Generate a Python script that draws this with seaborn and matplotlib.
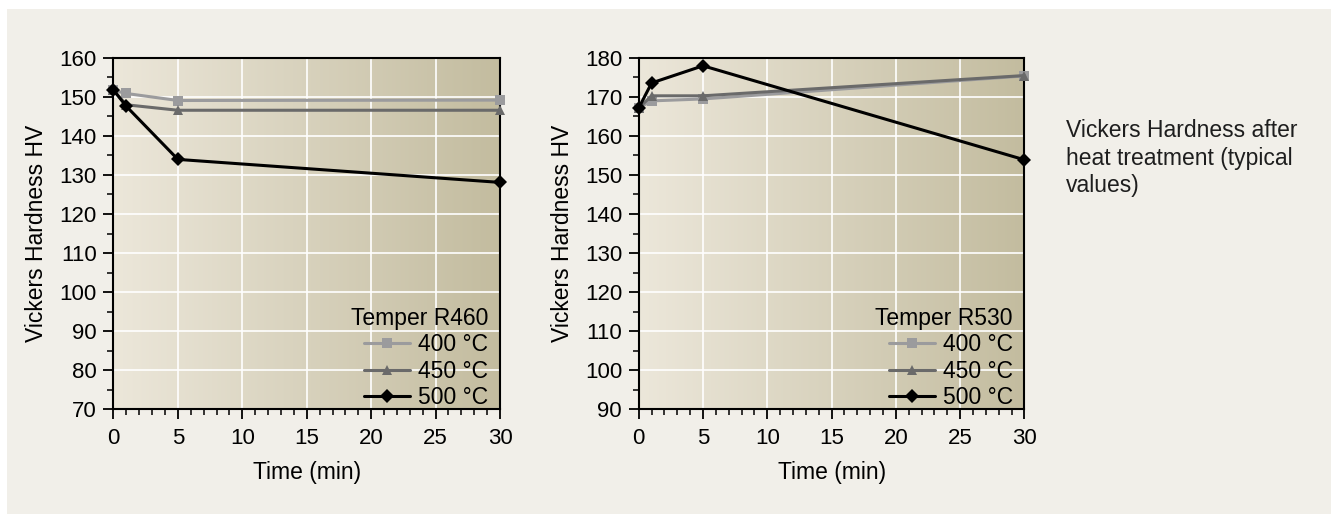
import numpy as np
import pandas as pd
import matplotlib.pyplot as plt
import seaborn as sns
from matplotlib.colors import LinearSegmentedColormap
from matplotlib.patches import Rectangle

sns.set_theme(style="white")
plt.rcParams['font.family'] = ['Liberation Sans', 'DejaVu Sans']
plt.rcParams['text.color'] = 'black'
plt.rcParams['axes.labelcolor'] = 'black'
plt.rcParams['xtick.color'] = 'black'
plt.rcParams['ytick.color'] = 'black'

# --- datos ---
time_min = [0, 1, 5, 30]
temps = ['400 °C', '450 °C', '500 °C']

r460_400 = [151.7, 150.9, 149.1, 149.2]
r460_450 = [151.7, 148.0, 146.6, 146.6]
r460_500 = [151.8, 147.6, 134.0, 128.1]

r530_400 = [167.2, 169.0, 169.5, 175.4]
r530_450 = [167.2, 170.3, 170.3, 175.5]
r530_500 = [167.2, 173.6, 178.0, 153.9]

colors = ['#9b9b9d', '#6a6a6a', '#000000']
markers = ['s', '^', 'D']
bg = '#f1efe9'
fs = 16.5


def make_df(series):
    rows = []
    for t, vals in zip(temps, series):
        for x, y in zip(time_min, vals):
            rows.append({'time': x, 'hv': y, 'temp': t})
    return pd.DataFrame(rows)


def draw_panel(ax, df, ylim, title):
    # fondo degradado
    grad = np.linspace(0, 1, 256).reshape(1, -1)
    cmap = LinearSegmentedColormap.from_list('bg', ['#ece7da', '#c3bc9f'])
    ax.imshow(grad, extent=[0, 30, ylim[0], ylim[1]], aspect='auto',
              cmap=cmap, zorder=0)

    sns.lineplot(data=df, x='time', y='hv', hue='temp', style='temp',
                 palette=colors, markers=markers, dashes=False,
                 linewidth=2.2, markersize=7.5, markeredgewidth=0,
                 ax=ax, zorder=3, clip_on=False)

    ax.set_xlim(0, 30)
    ax.set_ylim(*ylim)
    ax.set_xticks(range(0, 31, 5))
    ax.set_xticks(range(0, 31, 1), minor=True)
    ax.set_yticks(range(ylim[0], ylim[1] + 1, 10))
    ax.set_yticks(range(ylim[0], ylim[1] + 1, 5), minor=True)
    ax.grid(True, which='major', color='white', linewidth=1.2, zorder=1)
    ax.set_axisbelow(True)
    for s in ax.spines.values():
        s.set_color('black')
        s.set_linewidth(1.5)
    ax.tick_params(which='major', direction='out', length=7, width=1.3,
                   labelsize=16, bottom=True, left=True, pad=5)
    ax.tick_params(axis='x', which='major', pad=7)
    ax.tick_params(which='minor', direction='out', length=4, width=1.1,
                   bottom=True, left=True)
    ax.set_xlabel('Time (min)', fontsize=fs, labelpad=8)
    ax.set_ylabel('Vickers Hardness HV', fontsize=fs, labelpad=8)

    handles, labels = ax.get_legend_handles_labels()
    ax.legend(handles, labels, title=title, loc='lower right',
              bbox_to_anchor=(0.97, 0.0),
              frameon=False, fontsize=fs, title_fontsize=fs,
              handlelength=2.0, handletextpad=0.35, labelspacing=0.15,
              borderaxespad=0.0, borderpad=0.0, alignment='right')


fig = plt.figure(figsize=(13.38, 5.15), dpi=100, facecolor='white')
fig.patches.append(Rectangle((7 / 1338, 1 / 515), 1324 / 1338, 505 / 515,
                             transform=fig.transFigure, facecolor=bg,
                             edgecolor='none', zorder=-10))
ax1 = fig.add_axes([0.0848, 0.2058, 0.2889, 0.6816])
ax2 = fig.add_axes([0.4774, 0.2058, 0.2882, 0.6816])

draw_panel(ax1, make_df([r460_400, r460_450, r460_500]), (70, 160), 'Temper R460')
draw_panel(ax2, make_df([r530_400, r530_450, r530_500]), (90, 180), 'Temper R530')

fig.text(1066 / 1338, 1 - 119 / 515,
         'Vickers Hardness after\nheat treatment (typical\nvalues)',
         fontsize=16.5, color='#1e1e1e', va='top', ha='left', linespacing=1.25)

plt.savefig('out.png', dpi=100, facecolor='white')
